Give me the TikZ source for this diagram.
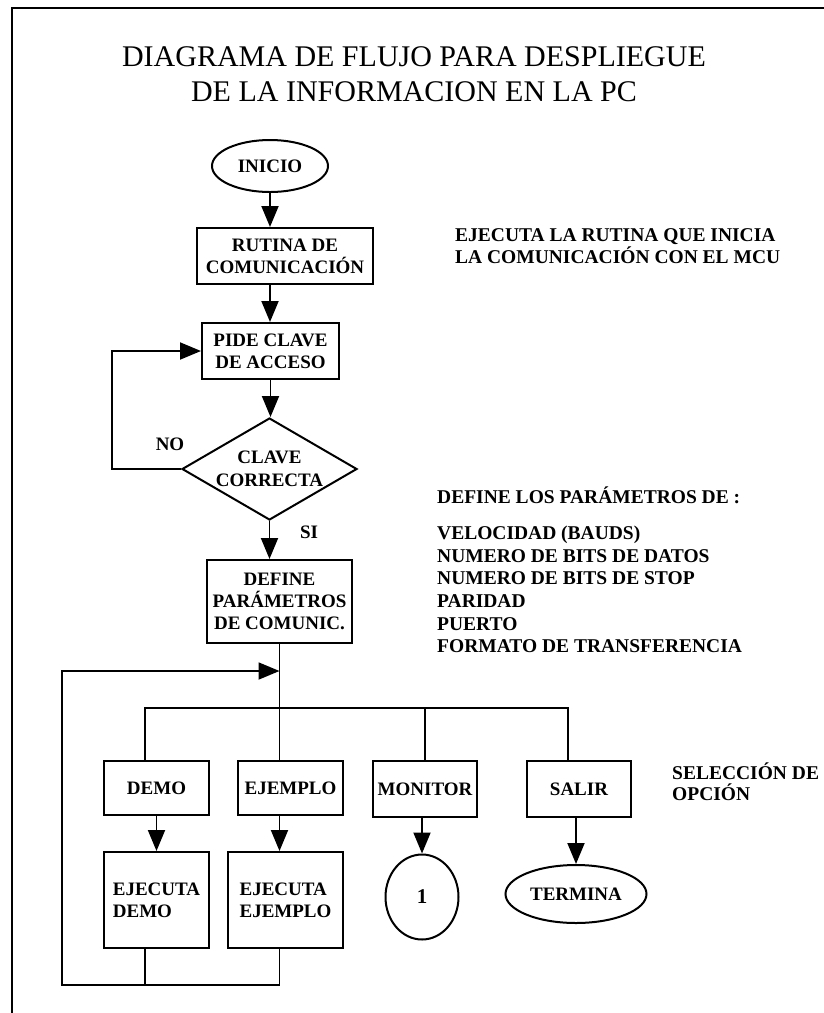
\documentclass[tikz,border=0pt]{standalone}
\usepackage{fontspec}
\setmainfont{Liberation Serif}
\usetikzlibrary{arrows.meta,shapes.geometric}
\begin{document}
\begin{tikzpicture}[x=1pt,y=-1pt,
  every node/.style={font=\bfseries\fontsize{19}{22}\selectfont},
  box/.style={draw, line width=2pt, inner sep=0pt, align=center},
  oval/.style={draw, ellipse, line width=2pt, inner sep=0pt},
  conn/.style={line width=1.9pt},
  arr/.style={conn, -{Triangle[length=21pt,width=17pt]}},
  note/.style={align=left, anchor=west, inner sep=0pt, font=\bfseries\fontsize{19.5}{22}\selectfont}
]
\useasboundingbox (0,0) rectangle (824,1013);
% frame
\draw[line width=2.2pt] (824,8) -- (12,8) -- (12,1013);

% title
\node[font=\fontsize{30}{35}\selectfont, align=center] (title) at (414,74)
  {DIAGRAMA DE FLUJO PARA DESPLIEGUE\\DE LA INFORMACION EN LA PC};

% main column
\node[oval, minimum width=116pt, minimum height=52pt] (inicio) at (270,166) {INICIO};
\node[box, minimum width=176pt, minimum height=56pt] (rutina) at (285,256) {RUTINA DE\\COMUNICACIÓN};
\node[box, minimum width=137pt, minimum height=56pt] (pide) at (270.5,351) {PIDE CLAVE\\DE ACCESO};
\node[draw, diamond, aspect=1.7, line width=2pt, inner sep=0pt, align=center,
      font=\bfseries\fontsize{19}{23}\selectfont,
      minimum width=175pt, minimum height=102pt] (dia) at (269.5,469) {CLAVE\\CORRECTA};
\node[box, minimum width=145pt, minimum height=83pt] (define) at (279.5,601.5) {DEFINE\\PARÁMETROS\\DE COMUNIC.};

\node (no) at (170,444) {NO};
\node (si) at (309,532) {SI};

% options row
\node[box, minimum width=105pt, minimum height=54pt] (demo) at (156.5,788) {DEMO};
\node[box, minimum width=105pt, minimum height=54pt] (ejemplo) at (290.5,788) {EJEMPLO};
\node[box, minimum width=104pt, minimum height=56pt] (monitor) at (425,789) {MONITOR};
\node[box, minimum width=104pt, minimum height=56pt] (salir) at (579,789) {SALIR};

\node[box, align=left, minimum width=105pt, minimum height=96pt] (ejdemo) at (156.5,900) {EJECUTA\\DEMO};
\node[box, align=left, minimum width=115pt, minimum height=96pt] (ejejemplo) at (285.5,900) {EJECUTA\\EJEMPLO};
\node[oval, minimum width=73pt, minimum height=85pt, font=\bfseries\fontsize{21}{22}\selectfont] (one) at (422,897) {1};
\node[oval, minimum width=141pt, minimum height=58pt] (termina) at (576,894) {TERMINA};

% side notes
\node[note] (t1) at (455,246) {EJECUTA LA RUTINA QUE INICIA\\LA COMUNICACIÓN CON EL MCU};
\node[note, font=\bfseries\fontsize{19.5}{22.7}\selectfont] (t2) at (437,570)
  {DEFINE LOS PARÁMETROS DE :\\[13pt]VELOCIDAD (BAUDS)\\NUMERO DE BITS DE DATOS\\NUMERO DE BITS DE STOP\\PARIDAD\\PUERTO\\FORMATO DE TRANSFERENCIA};
\node[note, font=\bfseries\fontsize{19.5}{21}\selectfont] (t3) at (672,781.5) {SELECCIÓN DE\\OPCIÓN};

% connectors, upper part
\draw[arr] (inicio.south) -- (inicio.south |- rutina.north);
\draw[arr] (inicio.south |- rutina.south) -- (inicio.south |- pide.north);
\draw[arr] (pide.south) -- (pide.south |- dia.north);
\draw[arr] (dia.west) -- ++(-69,0) |- (pide.west);
\draw[arr] (dia.south) -- (dia.south |- define.north);

% branching
\coordinate (bl) at (145,708);
\coordinate (br) at (568,708);
\draw[conn] (define.south) -- (define.south |- ejemplo.north);
\draw[conn] (demo.north -| bl) -- (bl) -- (br) -- (salir.north -| br);
\draw[conn] (monitor.north) -- (monitor.north |- bl);

\draw[arr] (demo.south) -- (ejdemo.north);
\draw[arr] (define.south |- ejemplo.south) -- (define.south |- ejejemplo.north);
\draw[arr] (one.north |- monitor.south) -- (one.north);
\draw[arr] (termina.north |- salir.south) -- (termina.north);

% feedback loop
\coordinate (fb) at (62,985);
\coordinate (loopc) at (62,671);
\draw[conn] (ejdemo.south -| bl) -- (bl |- fb);
\draw[arr] (define.south |- ejejemplo.south) -- (define.south |- fb) -- (fb) -- (loopc) -- (loopc -| define.south);
\end{tikzpicture}
\end{document}
